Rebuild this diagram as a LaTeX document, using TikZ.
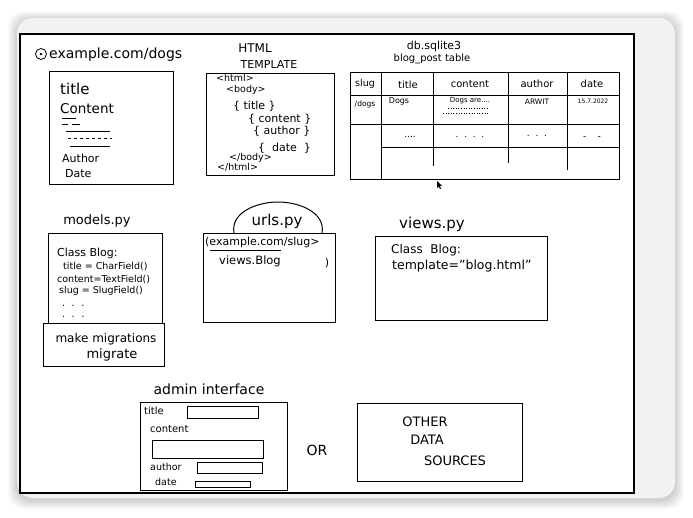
\documentclass[tikz,border=0pt]{standalone}
\usepackage{fontspec}
\setmainfont{DejaVu Sans}
\begin{document}
\begin{tikzpicture}[x=1pt,y=-1pt,
  sk/.style={draw=black,line width=1pt},
  fz/.style={inner sep=0pt,font=\fontsize{#1}{#1}\selectfont},
  fld/.style={draw=black,line width=0.8pt}]
\useasboundingbox (0,0) rectangle (693,517);
\fill[white] (0,0) rectangle (693,517);
% soft shadow of the card
\foreach \i in {1,...,9}{
  \fill[black,opacity=0.018,rounded corners=16pt] ({17-\i},{20-\i}) rectangle ({675+\i},{500+\i});
}
\fill[black!5,rounded corners=16pt] (17,18) rectangle (675,498);
\fill[white] (20,34) rectangle (634,493);
\draw[black,line width=1.8pt] (20,34) rectangle (634,493);

% ---------- browser page ----------
\node[circle,draw,line width=0.8pt,minimum size=11pt,inner sep=0pt] (urlicon) at (41,54) {};
\fill (41,54) circle (1.3pt);
\node[fz=14,anchor=west] (url) at (49,55) {example.com/dogs};
\draw[sk] (49,71) rectangle (173,184);
\node[fz=15,anchor=west] (ptitle) at (60,89) {title};
\node[fz=13.5,anchor=west] (pcontent) at (60,109) {Content};
\draw[line width=0.8pt] (62,118)--(76,118) (62,124)--(68,124) (72,124)--(80,124)
  (66,131)--(110,131) (70,146)--(110,146);
\draw[line width=0.8pt,dashed] (68,138)--(112,138);
\node[fz=11,anchor=west] (pauthor) at (62,158) {Author};
\node[fz=11,anchor=west] (pdate) at (65,174) {Date};

% ---------- HTML template ----------
\node[fz=12] (htmlA) at (255,48) {HTML};
\node[fz=11] (htmlB) at (269,64) {TEMPLATE};
\draw[sk] (206,73) rectangle (334,175);
\node[fz=9.5,anchor=west] (t1) at (216,78) {<html>};
\node[fz=9.5,anchor=west] (t2) at (226,90) {<body>};
\node[fz=11,anchor=west] (t3) at (233,106) {\{ title \}};
\node[fz=11,anchor=west] (t4) at (248,119) {\{ content \}};
\node[fz=11,anchor=west] (t5) at (253,131) {\{ author \}};
\node[fz=11,anchor=west] (t6) at (258,148) {\{\ \ date\ \ \}};
\node[fz=9.5,anchor=west] (t7) at (229,158) {</body>};
\node[fz=9.5,anchor=west] (t8) at (217,167) {</html>};

% ---------- database table ----------
\node[fz=11] (dbA) at (434,46) {db.sqlite3};
\node[fz=10] (dbB) at (432,59) {blog\_post table};
\draw[sk] (350,72) rectangle (619,179);
\draw[sk] (381,72)--(381,179) (433,72)--(433,166) (508,72)--(508,163) (567,72)--(567,170);
\draw[sk] (350,95)--(619,95) (350,124)--(619,124) (381,147)--(619,147);
\node[fz=9.5] (hslug) at (365,84) {slug};
\node[fz=10] (htitle) at (408,85) {title};
\node[fz=10] (hcontent) at (470,84) {content};
\node[fz=10] (hauthor) at (537,84) {author};
\node[fz=10] (hdate) at (592,84) {date};
\node[fz=7.5] (rslug) at (365,104) {/dogs};
\node[fz=8] (rtitle) at (399,101) {Dogs};
\node[fz=7] (rcontent) at (470,101) {Dogs are....};
\draw[line width=0.6pt,dotted] (448,108)--(488,108) (443,113)--(488,113);
\node[fz=7.5] (rauthor) at (537,102) {ARWIT};
\node[fz=6] (rdate) at (593,101) {15.7.2022};
\node[fz=9] (d1) at (410,137) {....};
\node[fz=9] (d2) at (470,137) {.\ \ .\ \ .\ \ .};
\node[fz=9] (d3) at (537,136) {.\ \ .\ \ .};
\node[fz=9] (d4) at (592,138) {-\ \ \ \ -};
\fill (437,181)--(437,188)--(438.6,186.4)--(440,189)--(441,188.5)--(439.7,185.8)--(442,185.8)--cycle;

% ---------- models.py ----------
\node[fz=13] (models) at (97,221) {models.py};
\draw[sk] (48,233) rectangle (162,323);
\draw[sk] (43,323) rectangle (164,366);
\node[fz=11,anchor=west] (m1) at (57,253) {Class Blog:};
\node[fz=9.5,anchor=west] (m2) at (63,267) {title = CharField()};
\node[fz=9.5,anchor=west] (m3) at (57,280) {content=TextField()};
\node[fz=9.5,anchor=west] (m4) at (59,291) {slug = SlugField()};
\node[fz=10,anchor=west] (m5) at (62,306) {.\ \ .\ \ .};
\node[fz=10,anchor=west] (m6) at (62,317) {.\ \ .\ \ .};
\node[fz=12] (mig1) at (106,339) {make migrations};
\node[fz=13] (mig2) at (112,355) {migrate};

% ---------- urls.py ----------
\draw[sk] (234,233) to[out=100,in=180] (278,202) to[out=0,in=80] (322,233);
\node[fz=15] (urls) at (277,221) {urls.py};
\draw[sk] (203,233) rectangle (335,322);
\node[fz=11,anchor=west] (u1) at (205,242) {(example.com/slug>};
\draw[black,line width=1pt] (210,250) -- (281,250);
\node[fz=11.5] (u2) at (250,261) {views.Blog};
\node[fz=11] (u3) at (327,263) {)};

% ---------- views.py ----------
\node[fz=15] (views) at (432,224) {views.py};
\draw[sk] (375,236) rectangle (547,320);
\node[fz=12,anchor=west] (v1) at (391,250) {Class\ \ Blog:};
\node[fz=12.5,anchor=west] (v2) at (392,266) {template="blog.html"};

% ---------- admin interface ----------
\node[fz=14] (admin) at (209,389) {admin interface};
\draw[sk] (140,402) rectangle (287,490);
\node[fz=10,anchor=west] (a1) at (144,411) {title};
\draw[fld] (187,406) rectangle (258,418);
\node[fz=10,anchor=west] (a2) at (150,429) {content};
\draw[fld] (152,440) rectangle (263,458);
\node[fz=9.5,anchor=west] (a3) at (150,467) {author};
\draw[fld] (197,462) rectangle (262,473);
\node[fz=9.5,anchor=west] (a4) at (155,482) {date};
\draw[fld] (195,481) rectangle (250,487);

\node[fz=14] (or) at (317,450) {OR};

% ---------- other data sources ----------
\draw[sk] (357,403) rectangle (522,481);
\node[fz=13] (o1) at (425,422) {OTHER};
\node[fz=13] (o2) at (427,440) {DATA};
\node[fz=13] (o3) at (455,461) {SOURCES};
\end{tikzpicture}
\end{document}
